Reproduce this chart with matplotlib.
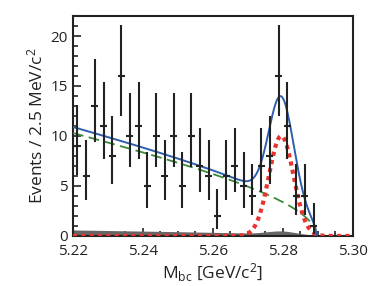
import numpy as np
import matplotlib
matplotlib.use('Agg')
from matplotlib import pyplot as plt
from matplotlib.ticker import MultipleLocator

plt.rcParams['font.family'] = ['Open Sans', 'DejaVu Sans']
plt.rcParams['mathtext.fontset'] = 'custom'
plt.rcParams['mathtext.rm'] = 'Open Sans'
plt.rcParams['mathtext.it'] = 'Open Sans:italic'

# binned data, 2.5 MeV bins from 5.22 to 5.30
bin_lo = 5.22
bin_w = 0.0025
counts = [9, 6, 13, 11, 8, 16, 10, 11, 5, 10, 6, 10, 5, 10, 7, 6,
          2, 6, 7, 5, 4, 7, 8, 16, 11, 4, 4, 1, 0, 0, 0, 0]

# fit components
endpoint = 5.2895      # ARGUS endpoint
argus_c = 6.0          # ARGUS shape
bkg_start = 10.3       # combinatorial bkg at 5.22
gray_start = 0.6       # other bkg at 5.22
gray_peak = 0.3        # small peaking part
sig_peak = 10.0
sig_mean = 5.2795
sig_sigma = 0.0035

def argus(x, start):
    def shape(m):
        z = np.clip(1 - (m / endpoint) ** 2, 0, None)
        return (m / endpoint) * np.sqrt(z) * np.exp(argus_c * z)
    return start * shape(x) / shape(5.22)

def gauss(x, peak, mu, s):
    return peak * np.exp(-0.5 * ((x - mu) / s) ** 2)

n = np.array(counts, dtype=float)
centers = bin_lo + bin_w * (np.arange(len(n)) + 0.5)
# Gehrels approximation for Poisson intervals
up = np.sqrt(n + 0.75) + 1
nn = np.maximum(n, 1)
lo = np.where(n > 0, n - n * (1 - 1 / (9 * nn) - 1 / (3 * np.sqrt(nn))) ** 3, 0)
mask = n > 0

x = np.linspace(5.22, 5.30, 800)
bkg = argus(x, bkg_start)
gray = argus(x, gray_start) + gauss(x, gray_peak, sig_mean, 0.004) * (x < endpoint)
sig = gauss(x, sig_peak, sig_mean, sig_sigma)
total = bkg + gray + sig

fig = plt.figure(figsize=(3.82, 2.86), dpi=100)
ax = fig.add_axes([0.191, 0.175, 0.733, 0.769])

ax.fill_between(x, 0, gray, color='#666666', lw=0, zorder=2)
ax.plot(x[x < endpoint], bkg[x < endpoint], color='#3a8a3a', lw=1.3,
        dashes=(6, 3), zorder=3)
ax.plot(x, sig, color='#e8332f', lw=3, ls=(0, (1, 1)), zorder=3)
ax.plot(x[x < endpoint + 0.0003], total[x < endpoint + 0.0003],
        color='#2d5fae', lw=1.4, zorder=4)
ax.errorbar(centers[mask], n[mask], yerr=[lo[mask], up[mask]], xerr=0.001,
            fmt='none', ecolor='#222222', elinewidth=1.5, zorder=5)

ax.set_xlim(5.22, 5.30)
ax.set_ylim(0, 22)
ax.xaxis.set_major_locator(MultipleLocator(0.02))
ax.xaxis.set_minor_locator(MultipleLocator(0.005))
ax.yaxis.set_major_locator(MultipleLocator(5))
ax.yaxis.set_minor_locator(MultipleLocator(1))
ax.tick_params(which='both', direction='in', top=False, right=False,
               width=1.2, colors='#222222', labelsize=11)
ax.tick_params(axis='x', pad=6)
ax.tick_params(which='major', length=6)
ax.tick_params(which='minor', length=3.5)
ax.set_xticklabels(['%.2f' % v for v in ax.get_xticks()])
for s in ax.spines.values():
    s.set_linewidth(1.5)
    s.set_color('#222222')

ax.set_xlabel(r'M$_{\rm bc}$ [GeV/c$^2$]', fontsize=12.5, color='#222222', labelpad=2)
ax.set_ylabel(r'Events / 2.5 MeV/c$^2$', fontsize=12.5, color='#222222', labelpad=3)

plt.savefig('out.png', dpi=100)
